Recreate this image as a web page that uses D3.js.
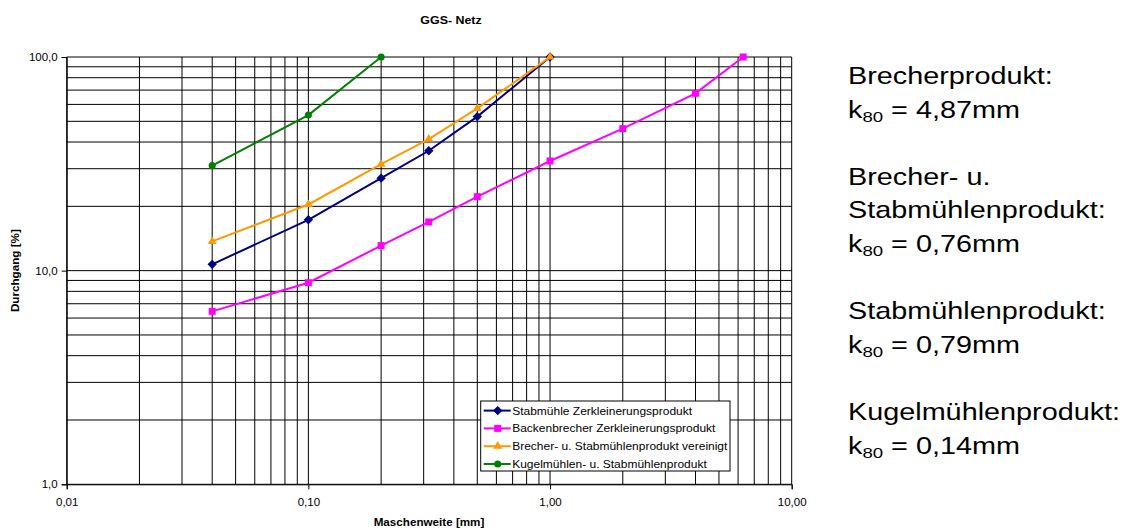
<!DOCTYPE html>
<html>
<head>
<meta charset="utf-8">
<script src="https://cdn.jsdelivr.net/npm/d3@7"></script>
<style>
  html, body { margin: 0; padding: 0; background: #fff; }
  svg { display: block; font-family: "Liberation Sans", Arial, sans-serif; }
</style>
</head>
<body>
<svg id="chart" width="1136" height="532"></svg>
<script>
// Sieve openings (mm)
const sieve = [0.04, 0.1, 0.2, 0.315, 0.5, 1.0, 2.0, 4.0, 6.3];

// Cumulative passing (%) per product
const stabmuehle   = [10.7, 17.3, 27.1, 36.4, 52.6, 100];
const backenbrecher = [6.45, 8.78, 13.1, 16.9, 22.2, 32.6, 46.2, 67.6, 100];
const vereinigt    = [13.7, 20.4, 31.5, 41.3, 57.5, 100];
const kugelmuehle  = [31.0, 53.5, 100];

const seriesNames = [
  "Stabmühle Zerkleinerungsprodukt",
  "Backenbrecher Zerkleinerungsprodukt",
  "Brecher- u. Stabmühlenprodukt vereinigt",
  "Kugelmühlen- u. Stabmühlenprodukt"
];
const seriesColors = ["#000080", "#FF00FF", "#FF9900", "#008000"];
const seriesSymbols = ["diamond", "square", "triangle", "circle"];
const seriesValues = [stabmuehle, backenbrecher, vereinigt, kugelmuehle];

const xTicks = [0.01, 0.1, 1, 10];
const yTicks = [1, 10, 100];

// Side notes: k80 of each product
const notes = [
  { lines: ["Brecherprodukt:"], k80: "4,87" },
  { lines: ["Brecher- u.", "Stabmühlenprodukt:"], k80: "0,76" },
  { lines: ["Stabmühlenprodukt:"], k80: "0,79" },
  { lines: ["Kugelmühlenprodukt:"], k80: "0,14" }
];

const svg = d3.select("#chart");
const plot = { left: 66.7, right: 791.7, top: 57, bottom: 484.3 };

const x = d3.scaleLog().domain([0.01, 10]).range([plot.left, plot.right]);
const y = d3.scaleLog().domain([1, 100]).range([plot.bottom, plot.top]);

const de = d3.formatLocale({ decimal: ",", thousands: ".", grouping: [3], currency: ["", " €"] });

// Log gridlines at 1..9 of every decade
const xGrid = [];
for (let e = -2; e < 1; e++) for (let m = 1; m <= 9; m++) xGrid.push(m * Math.pow(10, e));
xGrid.push(10);
const yGrid = [];
for (let e = 0; e < 2; e++) for (let m = 1; m <= 9; m++) yGrid.push(m * Math.pow(10, e));
yGrid.push(100);

const grid = svg.append("g").attr("stroke", "#000").attr("stroke-width", 1).attr("fill", "none");
grid.selectAll("line.vx").data(xGrid).join("line")
  .attr("x1", d => x(d)).attr("x2", d => x(d))
  .attr("y1", plot.top).attr("y2", plot.bottom);
grid.selectAll("line.hy").data(yGrid).join("line")
  .attr("y1", d => y(d)).attr("y2", d => y(d))
  .attr("x1", plot.left).attr("x2", plot.right);

// Axes
const xAxis = svg.append("g")
  .attr("transform", `translate(0,${plot.bottom})`)
  .call(d3.axisBottom(x).tickValues(xTicks).tickSize(5).tickPadding(9).tickFormat(de.format(".2f")));
const yAxis = svg.append("g")
  .attr("transform", `translate(${plot.left},0)`)
  .call(d3.axisLeft(y).tickValues(yTicks).tickSize(5).tickPadding(4).tickFormat(de.format(".1f")));
[xAxis, yAxis].forEach(a => {
  a.select(".domain").attr("stroke", "#000");
  a.selectAll(".tick line").attr("stroke", "#000");
  a.selectAll(".tick text").attr("fill", "#000").attr("font-size", "11.5px")
    .attr("font-family", "Liberation Sans, Arial, sans-serif");
});

// Symbol helper
function symbolPath(kind) {
  if (kind === "diamond") return d3.symbol().type(d3.symbolSquare).size(44)();
  if (kind === "square") return d3.symbol().type(d3.symbolSquare).size(49)();
  if (kind === "triangle") return d3.symbol().type(d3.symbolTriangle).size(34)();
  return d3.symbol().type(d3.symbolCircle).size(40)();
}

const line = d3.line().x(d => x(d[0])).y(d => y(d[1]));

seriesValues.forEach((vals, i) => {
  const pts = vals.map((v, j) => [sieve[j], v]);
  const g = svg.append("g");
  g.append("path").datum(pts).attr("d", line)
    .attr("fill", "none").attr("stroke", seriesColors[i]).attr("stroke-width", 2);
  g.selectAll("path.m").data(pts).join("path").attr("class", "m")
    .attr("d", symbolPath(seriesSymbols[i]))
    .attr("transform", d => `translate(${x(d[0])},${y(d[1])})` + (seriesSymbols[i] === "diamond" ? " rotate(45)" : ""))
    .attr("fill", seriesColors[i]);
});

// Title and axis titles
svg.append("text").attr("transform", "translate(451,24) scale(1.08,1)")
  .attr("text-anchor", "middle").attr("font-weight", "bold").attr("font-size", "11.5px")
  .text("GGS- Netz");
svg.append("text").attr("transform", "translate(429,525.5) scale(1.06,1)")
  .attr("text-anchor", "middle").attr("font-weight", "bold").attr("font-size", "11px")
  .text("Maschenweite [mm]");
svg.append("text").attr("transform", `translate(18.5,${(plot.top + plot.bottom) / 2}) rotate(-90) scale(1.06,1)`)
  .attr("text-anchor", "middle").attr("font-weight", "bold").attr("font-size", "11px")
  .text("Durchgang [%]");

// Legend
const leg = { x: 480.7, y: 401, w: 249.3, h: 70, row: 17.8 };
const legend = svg.append("g");
legend.append("rect").attr("x", leg.x).attr("y", leg.y).attr("width", leg.w).attr("height", leg.h)
  .attr("fill", "#fff").attr("stroke", "#000").attr("stroke-width", 1);
seriesNames.forEach((name, i) => {
  const cy = leg.y + 9.6 + i * leg.row;
  legend.append("line").attr("x1", leg.x + 3).attr("x2", leg.x + 30).attr("y1", cy).attr("y2", cy)
    .attr("stroke", seriesColors[i]).attr("stroke-width", 2);
  legend.append("path").attr("d", symbolPath(seriesSymbols[i]))
    .attr("transform", `translate(${leg.x + 17},${cy})` + (seriesSymbols[i] === "diamond" ? " rotate(45)" : ""))
    .attr("fill", seriesColors[i]);
  legend.append("text").attr("transform", `translate(${leg.x + 31.5},${cy + 4}) scale(1.09,1)`)
    .attr("font-size", "11px").attr("fill", "#000").text(name);
});

// k80 notes beside the chart
const noteX = 848, lineH = 33.6;
let baseline = 84;
const notesG = svg.append("g");
notes.forEach(n => {
  n.lines.forEach(t => {
    notesG.append("text").attr("transform", `translate(${noteX},${baseline}) scale(1.2,1)`)
      .attr("font-size", "24px").attr("fill", "#000").text(t);
    baseline += lineH;
  });
  const t = notesG.append("text").attr("transform", `translate(${noteX},${baseline}) scale(1.2,1)`)
    .attr("font-size", "24px").attr("fill", "#000");
  t.append("tspan").text("k");
  t.append("tspan").attr("font-size", "15.5px").attr("dy", 4).text("80");
  t.append("tspan").attr("dy", -4).text(` = ${n.k80}mm`);
  baseline += 2 * lineH;
});
</script>
</body>
</html>
